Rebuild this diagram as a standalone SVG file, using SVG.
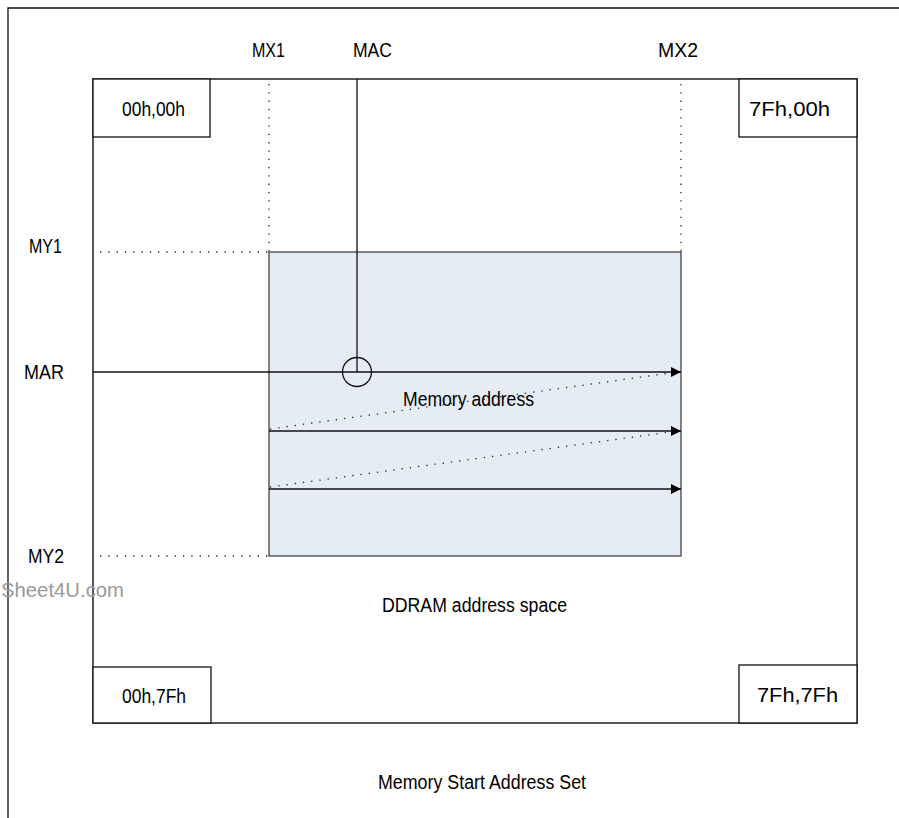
<svg xmlns="http://www.w3.org/2000/svg" width="899" height="818" viewBox="0 0 899 818">
<defs>
<style>
.t{font-family:"Liberation Sans",Arial,sans-serif;font-size:20px;fill:#000}
.wm{font-family:"Liberation Sans",Arial,sans-serif;font-size:20px;fill:#9a9a9a}
.box{fill:#fff;stroke:#111;stroke-width:1.3}
.ln{stroke:#111;stroke-width:1.3;fill:none}
.dot{stroke:#222;stroke-width:1.3;fill:none;stroke-dasharray:1.3 7}
</style>
<marker id="ah" viewBox="0 0 10 10" refX="10" refY="5" markerWidth="12" markerHeight="10" markerUnits="userSpaceOnUse" orient="auto">
<path d="M0,0 L10,5 L0,10 z" fill="#000"/>
</marker>
</defs>
<rect width="899" height="818" fill="#fff"/>
<g id="frame">
<path class="ln" d="M8,818 V8 H899" stroke-width="1.6"/>
</g>
<g id="ddram">
<rect x="93" y="79" width="764" height="644" fill="#fff" stroke="#111" stroke-width="1.4"/>
</g>
<g id="window">
<rect x="269" y="252" width="412" height="304" fill="#e6ecf6" stroke="#444" stroke-width="1.3"/>
</g>
<g id="corner-00-00"><rect class="box" x="93" y="79" width="117" height="58"/><text class="t" x="122" y="116" textLength="63" lengthAdjust="spacingAndGlyphs">00h,00h</text></g>
<g id="corner-7f-00"><rect class="box" x="739" y="79" width="118" height="58"/><text class="t" x="749" y="116" textLength="81" lengthAdjust="spacingAndGlyphs">7Fh,00h</text></g>
<g id="corner-00-7f"><rect class="box" x="93" y="667" width="118" height="56"/><text class="t" x="122" y="703" textLength="64" lengthAdjust="spacingAndGlyphs">00h,7Fh</text></g>
<g id="corner-7f-7f"><rect class="box" x="739" y="665" width="118" height="58"/><text class="t" x="757" y="702" textLength="81" lengthAdjust="spacingAndGlyphs">7Fh,7Fh</text></g>
<g id="connectors">
<line class="dot" x1="269" y1="84" x2="269" y2="252"/>
<line class="dot" x1="681" y1="84" x2="681" y2="252"/>
<line class="dot" x1="100" y1="252" x2="269" y2="252"/>
<line class="dot" x1="100" y1="556" x2="269" y2="556"/>
<line class="ln" x1="357" y1="79" x2="357" y2="372"/>
<circle cx="357" cy="372" r="14.5" fill="none" stroke="#111" stroke-width="1.3"/>
<line class="ln" x1="93" y1="372" x2="681" y2="372" marker-end="url(#ah)"/>
<line class="ln" x1="269" y1="431" x2="681" y2="431" marker-end="url(#ah)"/>
<line class="ln" x1="269" y1="489" x2="681" y2="489" marker-end="url(#ah)"/>
<line class="dot" x1="270" y1="429" x2="670" y2="373"/>
<line class="dot" x1="270" y1="487" x2="670" y2="432"/>
</g>
<g id="labels">
<text class="t" x="252" y="57" textLength="33" lengthAdjust="spacingAndGlyphs">MX1</text>
<text class="t" x="353" y="57" textLength="39" lengthAdjust="spacingAndGlyphs">MAC</text>
<text class="t" x="658" y="57" textLength="40" lengthAdjust="spacingAndGlyphs">MX2</text>
<text class="t" x="29" y="253" textLength="33" lengthAdjust="spacingAndGlyphs">MY1</text>
<text class="t" x="24" y="379" textLength="40" lengthAdjust="spacingAndGlyphs">MAR</text>
<text class="t" x="28" y="563" textLength="36" lengthAdjust="spacingAndGlyphs">MY2</text>
<text class="t" x="403" y="406" textLength="131" lengthAdjust="spacingAndGlyphs">Memory address</text>
<text class="wm" x="1" y="597" textLength="123" lengthAdjust="spacingAndGlyphs">Sheet4U.com</text>
<text class="t" x="382" y="612" textLength="185" lengthAdjust="spacingAndGlyphs">DDRAM address space</text>
<text class="t" x="378" y="789" textLength="208" lengthAdjust="spacingAndGlyphs">Memory Start Address Set</text>
</g>
</svg>
